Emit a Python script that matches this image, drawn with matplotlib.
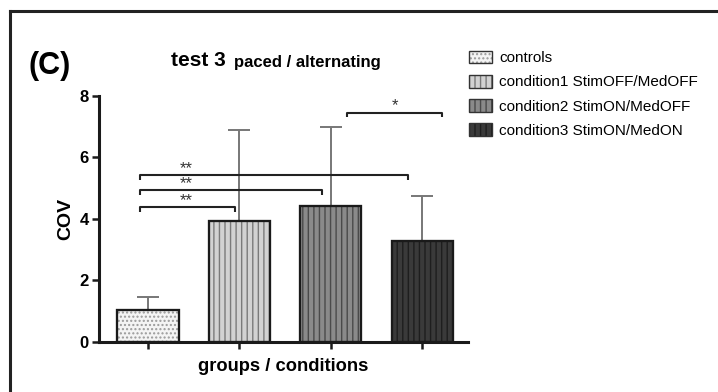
import matplotlib
matplotlib.use("Agg")
import matplotlib.pyplot as plt
from matplotlib.patches import Patch
from matplotlib.lines import Line2D

plt.rcParams['font.family'] = ['Liberation Sans', 'DejaVu Sans']
plt.rcParams['hatch.linewidth'] = 1.0

# Data
groups = ["controls", "condition1 StimOFF/MedOFF",
          "condition2 StimON/MedOFF", "condition3 StimON/MedON"]
means = [1.03, 3.91, 4.41, 3.27]
upper_err = [0.43, 2.99, 2.58, 1.48]
yticks = [0, 2, 4, 6, 8]

# significance brackets: (left group, right group, height, label)
brackets = [(0, 1, 4.37, "**"), (0, 2, 4.92, "**"), (0, 3, 5.41, "**"),
            (2, 3, 7.45, "*")]

face_colors = ["#f4f4f4", "#d2d2d2", "#8a8a8a", "#3a3a3a"]
hatch_colors = ["#9a9a9a", "#7a7a7a", "#4a4a4a", "#1e1e1e"]
hatches = ["....", "|||", "|||", "|||"]

fig = plt.figure(figsize=(7.18, 3.92), dpi=100)
W, H = 718, 392

# outer panel frame
fig.add_artist(Line2D([10 / W, 10 / W], [0, 1 - 11 / H], color="#222222",
                      lw=2.2, transform=fig.transFigure))
fig.add_artist(Line2D([10 / W, 1], [1 - 11 / H, 1 - 11 / H], color="#222222",
                      lw=2.2, transform=fig.transFigure))

ax = fig.add_axes([98.6 / W, 1 - 341.7 / H, (468 - 98.6) / W, (341.7 - 95.7) / H])

x = list(range(len(groups)))
bars = ax.bar(x, means, width=0.67, color=face_colors, edgecolor="#1a1a1a",
              linewidth=1.5, zorder=2)
for b, h, hc in zip(bars, hatches, hatch_colors):
    b.set_hatch(h)
    b._hatch_color = matplotlib.colors.to_rgba(hc)
# outline drawn again above the hatching
ax.bar(x, means, width=0.67, color="none", edgecolor="#1a1a1a",
       linewidth=1.6, zorder=3)

ax.errorbar(x, means, yerr=[[0] * 4, upper_err], fmt="none", ecolor="#777777",
            elinewidth=1.4, capsize=8, capthick=1.4, zorder=1)

# significance brackets
for g1, g2, y, lab in brackets:
    if (g1, g2) == (2, 3):
        xl, xr = g1 + 0.175, g2 + 0.22
        tx = (xl + xr) / 2
    else:
        xl = g1 - 0.09
        xr = g2 - {1: 0.045, 2: 0.10, 3: 0.155}[g2]
        tx = 0.42
    ax.plot([xl, xl, xr, xr], [y - 0.14, y, y, y - 0.14], color="#222222",
            lw=1.5, zorder=4, solid_capstyle="butt")
    ax.text(tx, y - 0.02, lab, ha="center", va="bottom",
            fontsize=12, color="#333333")

ax.set_xlim(-0.54, 3.5)
ax.set_ylim(0, 8)
ax.set_yticks(yticks)
ax.set_yticklabels([str(t) for t in yticks], fontsize=12, fontweight="bold")
ax.set_xticks(x)
ax.set_xticklabels([])
ax.tick_params(axis="both", direction="out", width=1.8, length=5, color="#1a1a1a")
ax.tick_params(axis="y", pad=2)
for s in ["top", "right"]:
    ax.spines[s].set_visible(False)
for s in ["left", "bottom"]:
    ax.spines[s].set_linewidth(2.2)
    ax.spines[s].set_color("#1a1a1a")
ax.spines["left"].set_bounds(0, 8)

ax.set_ylabel("COV", fontsize=14, fontweight="bold", labelpad=4)
ax.set_xlabel("groups / conditions", fontsize=13.2, fontweight="bold", labelpad=3)

# panel letter and title
fig.text(29 / W, 1 - 66 / H, "(C)", fontsize=22, fontweight="bold",
         ha="left", va="center")
fig.text(171 / W, 1 - 61 / H, "test 3", fontsize=15, fontweight="bold",
         ha="left", va="center")
fig.text(234 / W, 1 - 63 / H, "paced / alternating", fontsize=12,
         fontweight="bold", ha="left", va="center")

# legend
handles = []
for fc, hc, h in zip(face_colors, hatch_colors, hatches):
    p = Patch(facecolor=fc, edgecolor="#333333", hatch=h, linewidth=1.0)
    p._hatch_color = matplotlib.colors.to_rgba(hc)
    handles.append(p)
leg = fig.legend(handles, groups, loc="upper left",
                 bbox_to_anchor=(455 / W, 1 - 37 / H), frameon=False,
                 fontsize=11, handlelength=1.5, handleheight=0.9,
                 handletextpad=0.5, labelspacing=0.62)

fig.savefig("out.png", dpi=100)
